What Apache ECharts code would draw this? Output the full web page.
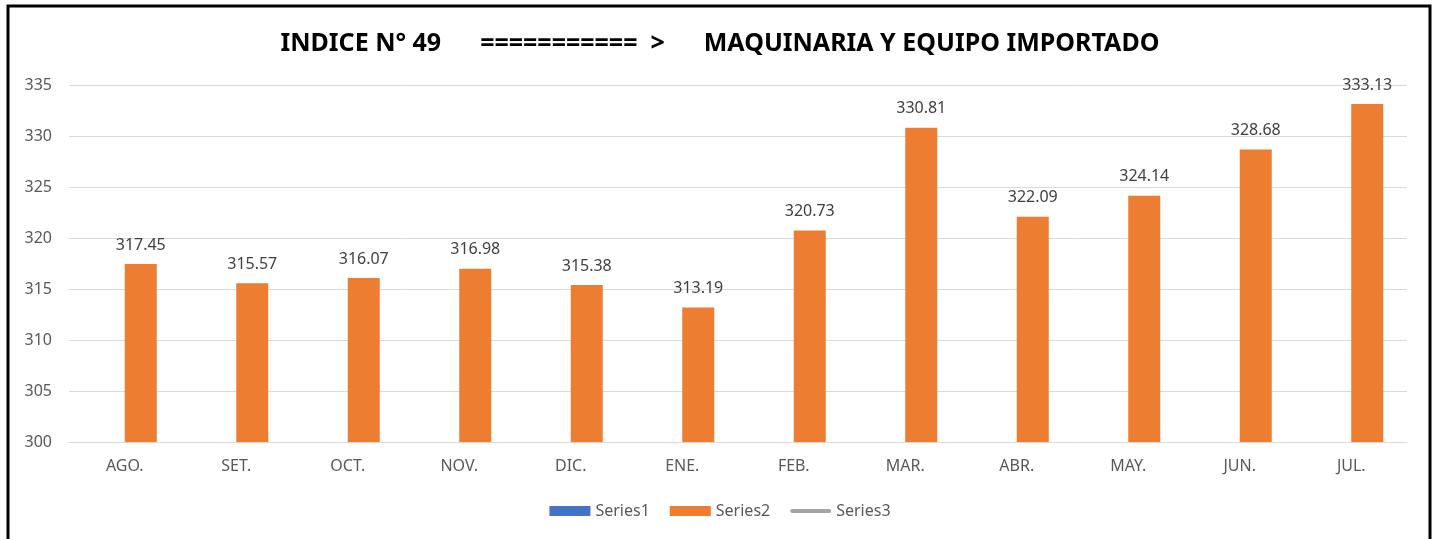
<!DOCTYPE html>
<html>
<head>
<meta charset="utf-8">
<title>Índice N° 49 - Maquinaria y equipo importado</title>
<script src="https://cdn.jsdelivr.net/npm/echarts@6/dist/echarts.min.js"></script>
<style>
  html, body { margin: 0; padding: 0; background: #ffffff; }
  #chart { width: 1440px; height: 539px; }
</style>
</head>
<body>
<div id="chart"></div>
<script>
// Months shown on the category axis
const months = ['AGO.', 'SET.', 'OCT.', 'NOV.', 'DIC.', 'ENE.', 'FEB.', 'MAR.', 'ABR.', 'MAY.', 'JUN.', 'JUL.'];
// Index values for each month
const series2Values = [317.45, 315.57, 316.07, 316.98, 315.38, 313.19, 320.73, 330.81, 322.09, 324.14, 328.68, 333.13];
// The other two series carry no values
const series1Values = [];
const series3Values = [];
// Value axis range
const yMin = 300;
const yMax = 335;
const yStep = 5;

const titleText = 'INDICE N° 49      ===========  >      MAQUINARIA Y EQUIPO IMPORTADO';
const font = 'Noto Sans, Open Sans, sans-serif';

const chart = echarts.init(document.getElementById('chart'), null, { renderer: 'canvas' });

chart.setOption({
  backgroundColor: '#ffffff',
  animation: false,
  title: {
    text: titleText,
    left: 'center',
    top: 26,
    textStyle: { fontFamily: font, fontSize: 25, fontWeight: 'bold', color: '#000000' }
  },
  graphic: [{
    type: 'rect',
    shape: { x: 8, y: 6, width: 1422, height: 620 },
    style: { fill: 'none', stroke: '#000000', lineWidth: 3 },
    silent: true,
    z: 100
  }],
  legend: {
    bottom: 15,
    left: 'center',
    itemWidth: 41,
    itemHeight: 10,
    itemGap: 20,
    textStyle: { fontFamily: font, fontSize: 16, color: '#595959' },
    data: [
      { name: 'Series1', icon: 'rect' },
      { name: 'Series2', icon: 'rect' },
      { name: 'Series3', icon: 'path://M2,0 L39,0 A2,2 0 0 1 39,4 L2,4 A2,2 0 0 1 2,0 Z' }
    ]
  },
  grid: { left: 69, right: 33, top: 85, bottom: 97, containLabel: false },
  xAxis: {
    type: 'category',
    data: months,
    axisLine: { lineStyle: { color: '#D9D9D9', width: 1 } },
    axisTick: { show: false },
    axisLabel: { fontFamily: font, fontSize: 16, color: '#595959', margin: 16 }
  },
  yAxis: {
    type: 'value',
    min: yMin,
    max: yMax,
    interval: yStep,
    axisLine: { show: false },
    axisTick: { show: false },
    splitLine: { lineStyle: { color: '#D9D9D9', width: 1 } },
    axisLabel: { fontFamily: font, fontSize: 16, color: '#595959', margin: 17 }
  },
  series: [
    {
      name: 'Series1',
      type: 'bar',
      data: series1Values,
      barWidth: 32,
      barGap: '0%',
      itemStyle: { color: '#4472C4' }
    },
    {
      name: 'Series2',
      type: 'bar',
      data: series2Values,
      barWidth: 32,
      barGap: '0%',
      itemStyle: { color: '#ED7D31' },
      label: {
        show: true,
        position: 'top',
        distance: 11,
        fontFamily: font,
        fontSize: 16,
        color: '#404040',
        formatter: p => p.value.toFixed(2)
      }
    },
    {
      name: 'Series3',
      type: 'line',
      data: series3Values,
      symbol: 'none',
      lineStyle: { color: '#A5A5A5', width: 4, cap: 'round' },
      itemStyle: { color: '#A5A5A5' }
    }
  ]
});
</script>
</body>
</html>
